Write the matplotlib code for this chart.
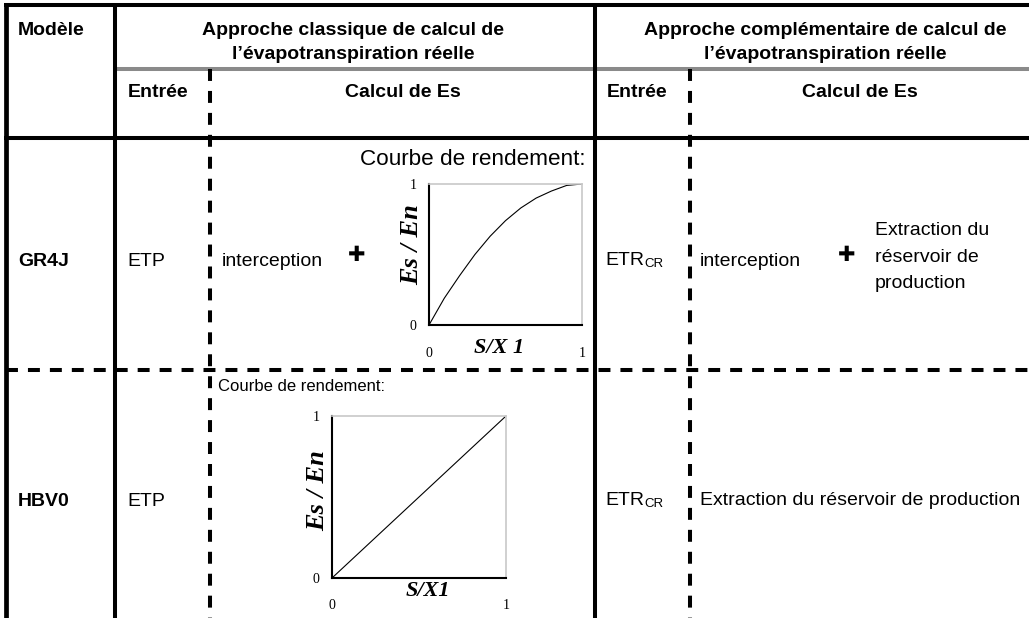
import matplotlib
matplotlib.use('Agg')
import matplotlib.pyplot as plt
from matplotlib import font_manager

W, H = 1029, 618

# table content
models = ['GR4J', 'HBV0']
entree_classique = ['ETP', 'ETP']
entree_compl = ['ETR', 'ETR']
entree_compl_sub = ['CR', 'CR']
header_classique = ['Approche classique de calcul de', 'l\u2019évapotranspiration réelle']
header_compl = ['Approche complémentaire de calcul de', 'l\u2019évapotranspiration réelle']
gr4j_compl = ['Extraction du', 'réservoir de', 'production']
hbv0_compl = 'Extraction du réservoir de production'

# courbes de rendement
gr4j_s = [0, 0.1, 0.2, 0.3, 0.4, 0.5, 0.6, 0.7, 0.8, 0.9, 1.0]
gr4j_es = [0, 0.19, 0.35, 0.50, 0.63, 0.74, 0.83, 0.90, 0.95, 0.99, 1.0]
hbv0_s = [0, 1]
hbv0_es = [0, 1]

names = {f.name for f in font_manager.fontManager.ttflist}
if 'Liberation Sans Narrow' in names:
    plt.rcParams['font.family'] = 'Liberation Sans Narrow'
    k = 1 / 0.82
else:
    plt.rcParams['font.family'] = 'Liberation Sans'
    k = 1.0
plt.rcParams['lines.scale_dashes'] = False

fig = plt.figure(figsize=(W / 100, H / 100), dpi=100)
ax = fig.add_axes([0, 0, 1, 1])
ax.set_xlim(0, W)
ax.set_ylim(H, 0)
ax.axis('off')

lw = 2.9
dash = (0, (8.6, 7.2))

# grid
ax.plot([117, W + 5], [69, 69], color='#8a8a8a', lw=lw, solid_capstyle='butt')
ax.plot([4, W + 5], [5, 5], color='k', lw=lw, solid_capstyle='butt')
ax.plot([4, W + 5], [138, 138], color='k', lw=lw, solid_capstyle='butt')
ax.plot([6, W + 5], [370, 370], color='k', lw=lw, linestyle=dash)
for x in [210, 690]:
    ax.plot([x, x], [69, H + 5], color='k', lw=lw, linestyle=dash)
ax.plot([6, 6], [4, H + 5], color='k', lw=3.4, solid_capstyle='butt')
for x in [115, 595]:
    ax.plot([x, x], [4, H + 5], color='k', lw=lw, solid_capstyle='butt')

fs = 14 * k
# header
ax.text(18, 35, 'Modèle', fontsize=fs, fontweight='bold', va='baseline')
for i, (a, b) in enumerate(zip(header_classique, header_compl)):
    y = 35 + i * 24
    ax.text(353, y, a, fontsize=fs, fontweight='bold', ha='center', va='baseline')
    ax.text(825, y, b, fontsize=fs, fontweight='bold', ha='center', va='baseline')
ax.text(128, 97, 'Entrée', fontsize=fs, fontweight='bold', va='baseline')
ax.text(403, 97, 'Calcul de Es', fontsize=fs, fontweight='bold', ha='center', va='baseline')
ax.text(607, 97, 'Entrée', fontsize=fs, fontweight='bold', va='baseline')
ax.text(860, 97, 'Calcul de Es', fontsize=fs, fontweight='bold', ha='center', va='baseline')

# rows
row_base = [266, 506]
for i, m in enumerate(models):
    yb = row_base[i]
    ax.text(18, yb, m, fontsize=fs, fontweight='bold', va='baseline')
    ax.text(127, yb, entree_classique[i], fontsize=fs, va='baseline')
    ax.text(605, yb - 1, entree_compl[i], fontsize=fs, va='baseline')
    ax.text(644, yb + 1, entree_compl_sub[i], fontsize=9.5 * k, va='baseline')

plus = dict(fontsize=15, family='DejaVu Sans', ha='center', va='center')
ax.text(222, 266, 'interception', fontsize=fs, va='baseline')
ax.text(357, 255, '\u271a', **plus)
ax.text(700, 266, 'interception', fontsize=fs, va='baseline')
ax.text(847, 255, '\u271a', **plus)
for j, line in enumerate(gr4j_compl):
    ax.text(875, 235 + j * 26.5, line, fontsize=fs, va='baseline')
ax.text(700, 505, hbv0_compl, fontsize=fs, va='baseline')

ax.text(586, 165, 'Courbe de rendement:', fontsize=16.2 * k, ha='right', va='baseline')
ax.text(218, 391, 'Courbe de rendement:', fontsize=12 * k, va='baseline')


def mini_chart(box, s, es, xl, yl, xlab_pos, ylab_pos, xpad, ypad):
    x0, y0, x1, y1 = box
    a = fig.add_axes([x0 / W, 1 - y1 / H, (x1 - x0) / W, (y1 - y0) / H])
    a.plot(s, es, color='k', lw=0.8)
    a.set_xlim(0, 1)
    a.set_ylim(0, 1)
    a.set_xticks([0, 1])
    a.set_yticks([0, 1])
    a.set_xticklabels(['0', '1'], family='Liberation Serif', fontsize=10)
    a.set_yticklabels(['0', '1'], family='Liberation Serif', fontsize=10)
    a.tick_params(axis='x', length=0, pad=xpad)
    a.tick_params(axis='y', length=0, pad=ypad)
    for sp in ['top', 'right']:
        a.spines[sp].set_color('#c8c8c8')
        a.spines[sp].set_linewidth(1.2)
    for sp in ['left', 'bottom']:
        a.spines[sp].set_color('k')
        a.spines[sp].set_linewidth(1.5)
    a.set_xlabel(xl, family='Liberation Serif', fontsize=16, fontweight='bold', style='italic')
    a.xaxis.set_label_coords(*xlab_pos)
    a.xaxis.label.set_va('center')
    a.set_ylabel(yl, family='Liberation Serif', fontsize=19, fontweight='bold', style='italic')
    a.yaxis.set_label_coords(*ylab_pos)
    a.yaxis.label.set_va('center')
    return a


mini_chart((429, 184, 582, 325), gr4j_s, gr4j_es, 'S/X 1', 'Es / En',
           (0.46, -0.165), (-0.11, 0.57), 16, 9)
mini_chart((332, 416, 506, 578), hbv0_s, hbv0_es, 'S/X1', 'Es / En',
           (0.55, -0.08), (-0.085, 0.54), 15, 9)

fig.savefig('out.png', dpi=100)
